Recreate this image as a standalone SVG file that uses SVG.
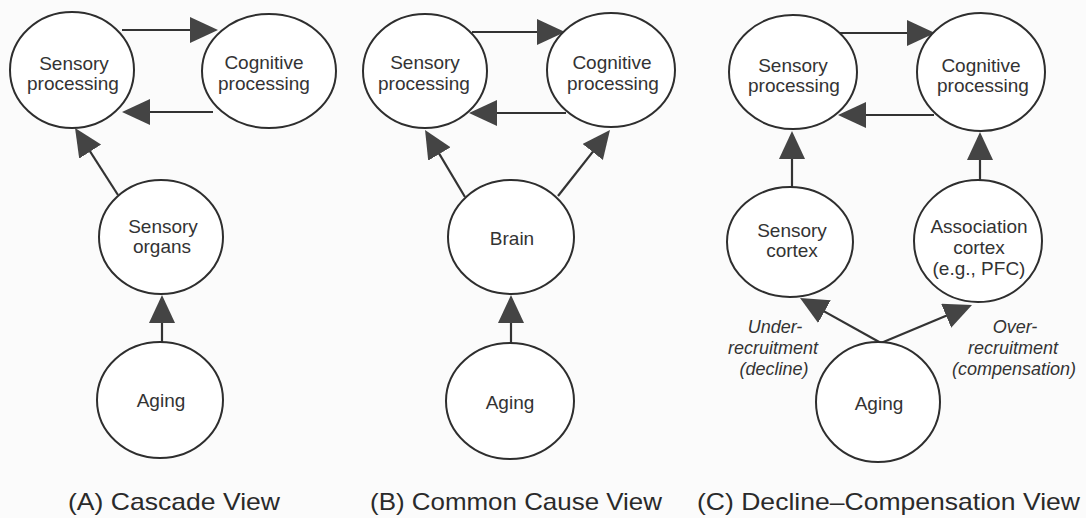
<svg xmlns="http://www.w3.org/2000/svg" width="1086" height="518" viewBox="0 0 1086 518">
<style>
.node ellipse{fill:#ffffff;stroke:#2e2e2e;stroke-width:2}
.lbl{font-family:"Liberation Sans",Arial,Helvetica,sans-serif;font-size:19px;fill:#333;text-anchor:middle}
.it{font-family:"Liberation Sans",Arial,Helvetica,sans-serif;font-size:18px;font-style:italic;fill:#333;text-anchor:middle}
.cap{font-family:"Liberation Sans",Arial,Helvetica,sans-serif;font-size:24px;fill:#2a2a2a}
#connectors line{stroke:#333;stroke-width:2.2;marker-end:url(#ah)}
</style>
<defs>
<marker id="ah" markerUnits="userSpaceOnUse" markerWidth="30" markerHeight="28" refX="24" refY="13" orient="auto">
<path d="M0,0 L28,13 L0,26 Z" fill="#444"/>
</marker>
</defs>
<rect width="1086" height="518" fill="#fbfbfb"/>

<g id="connectors">
<line x1="122" y1="30" x2="214" y2="30"/>
<line x1="213" y1="112" x2="126" y2="112"/>
<line x1="118" y1="195" x2="77.2" y2="131.4"/>
<line x1="162" y1="342" x2="162" y2="299"/>

<line x1="472" y1="32" x2="561" y2="32"/>
<line x1="566" y1="113" x2="473" y2="113"/>
<line x1="465" y1="197" x2="427.1" y2="133.4"/>
<line x1="558" y1="196" x2="607.5" y2="133.1"/>
<line x1="511" y1="343" x2="511" y2="299"/>

<line x1="839" y1="33" x2="931" y2="33"/>
<line x1="934" y1="115" x2="842" y2="115"/>
<line x1="792" y1="187" x2="792" y2="135"/>
<line x1="980" y1="180" x2="980" y2="136"/>
<line x1="881" y1="343" x2="803.5" y2="299.9"/>
<line x1="881" y1="343" x2="968.3" y2="306.5"/>
</g>

<g id="a-sensory-processing" class="node">
<ellipse cx="72" cy="70" rx="62" ry="58"/>
<text class="lbl" x="74" y="70">Sensory</text>
<text class="lbl" x="73" y="90">processing</text>
</g>
<g id="a-cognitive-processing" class="node">
<ellipse cx="269" cy="71" rx="67" ry="57"/>
<text class="lbl" x="264" y="69">Cognitive</text>
<text class="lbl" x="264" y="90">processing</text>
</g>
<g id="a-sensory-organs" class="node">
<ellipse cx="161" cy="237" rx="62" ry="57"/>
<text class="lbl" x="163" y="233">Sensory</text>
<text class="lbl" x="162" y="253">organs</text>
</g>
<g id="a-aging" class="node">
<ellipse cx="160" cy="400" rx="63" ry="58"/>
<text class="lbl" x="161" y="407">Aging</text>
</g>

<g id="b-sensory-processing" class="node">
<ellipse cx="425" cy="71" rx="62" ry="57"/>
<text class="lbl" x="425" y="69">Sensory</text>
<text class="lbl" x="424" y="90">processing</text>
</g>
<g id="b-cognitive-processing" class="node">
<ellipse cx="611" cy="70" rx="64" ry="57"/>
<text class="lbl" x="612" y="69">Cognitive</text>
<text class="lbl" x="613" y="90">processing</text>
</g>
<g id="b-brain" class="node">
<ellipse cx="511" cy="237" rx="63" ry="57"/>
<text class="lbl" x="512" y="245">Brain</text>
</g>
<g id="b-aging" class="node">
<ellipse cx="510" cy="401" rx="64" ry="58"/>
<text class="lbl" x="510" y="409">Aging</text>
</g>

<g id="c-sensory-processing" class="node">
<ellipse cx="793" cy="72" rx="64" ry="57"/>
<text class="lbl" x="793" y="72">Sensory</text>
<text class="lbl" x="794" y="92">processing</text>
</g>
<g id="c-cognitive-processing" class="node">
<ellipse cx="981" cy="72" rx="64" ry="59"/>
<text class="lbl" x="981" y="72">Cognitive</text>
<text class="lbl" x="983" y="92">processing</text>
</g>
<g id="c-sensory-cortex" class="node">
<ellipse cx="790" cy="242" rx="63" ry="55"/>
<text class="lbl" x="792" y="237">Sensory</text>
<text class="lbl" x="792" y="257">cortex</text>
</g>
<g id="c-association-cortex" class="node">
<ellipse cx="978" cy="241" rx="64" ry="61"/>
<text class="lbl" x="979" y="233">Association</text>
<text class="lbl" x="979" y="254">cortex</text>
<text class="lbl" x="979" y="275">(e.g., PFC)</text>
</g>
<g id="c-aging" class="node">
<ellipse cx="878" cy="402" rx="62" ry="60"/>
<text class="lbl" x="879" y="410">Aging</text>
</g>

<g id="edge-labels">
<text class="it" x="775" y="333">Under-</text>
<text class="it" x="773" y="354">recruitment</text>
<text class="it" x="774" y="375">(decline)</text>
<text class="it" x="1015" y="333">Over-</text>
<text class="it" x="1013" y="354">recruitment</text>
<text class="it" x="1014" y="375">(compensation)</text>
</g>

<g id="captions">
<text class="cap" x="68" y="510" textLength="212" lengthAdjust="spacingAndGlyphs">(A) Cascade View</text>
<text class="cap" x="370" y="510" textLength="292" lengthAdjust="spacingAndGlyphs">(B) Common Cause View</text>
<text class="cap" x="697" y="510" textLength="383" lengthAdjust="spacingAndGlyphs">(C) Decline–Compensation View</text>
</g>
</svg>
